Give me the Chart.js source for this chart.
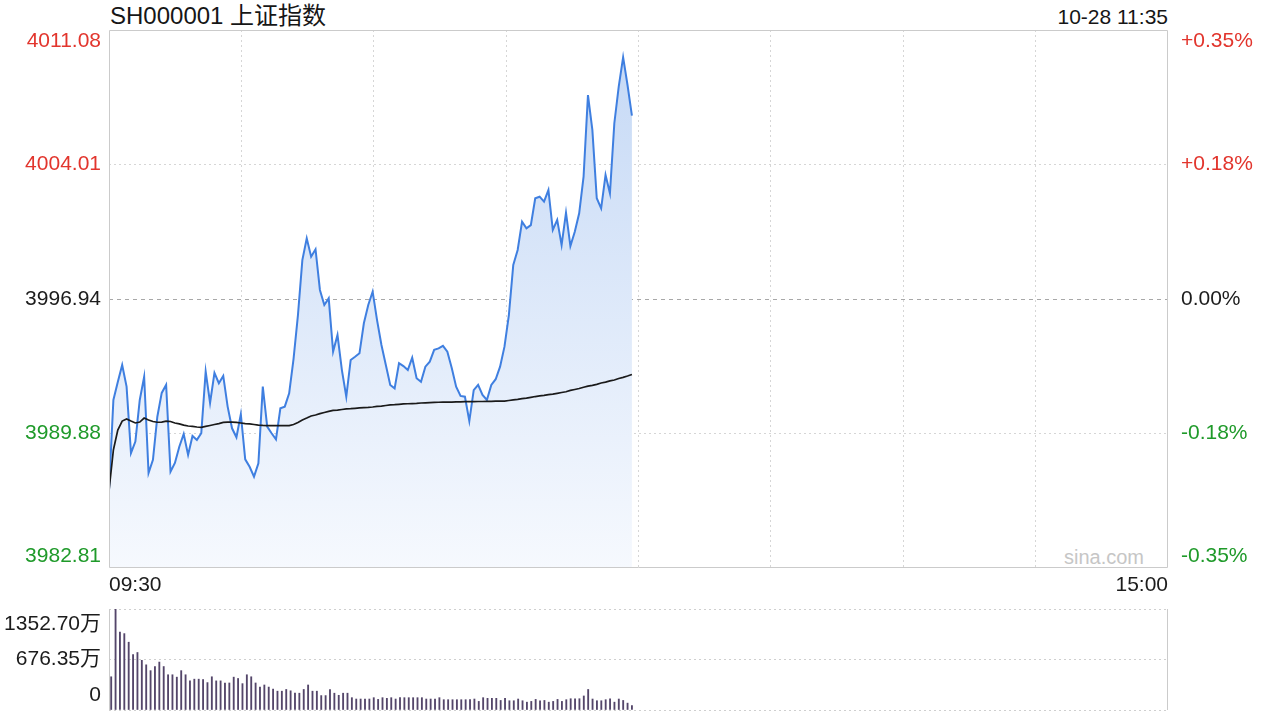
<!DOCTYPE html>
<html><head><meta charset="utf-8">
<script src="https://cdn.jsdelivr.net/npm/chart.js@4.4.1/dist/chart.umd.min.js"></script>
<style>
html,body{margin:0;padding:0;background:#fff;width:1280px;height:720px;overflow:hidden;font-family:"Liberation Sans",Arial,"Noto Sans CJK SC",sans-serif;}
canvas{position:absolute;left:0;}
#main{top:0;}
#vol{top:600px;}
.t{position:absolute;white-space:nowrap;}
</style></head><body>
<div class="t" style="left:110px;top:1px;line-height:30px;font-size:24px;color:#161616;">SH000001 上证指数</div>
<div class="t" style="right:112px;top:2px;line-height:30px;font-size:21px;color:#161616;">10-28 11:35</div>
<div class="t" style="left:1064px;top:546px;line-height:22px;font-size:20px;color:#c6c6c6;">sina.com</div>
<canvas id="main" width="1280" height="600"></canvas>
<canvas id="vol" width="1280" height="120"></canvas>
<script>
const prevClose = 3996.94;
const priceTicks = [3982.81, 3989.88, 3996.94, 4004.01, 4011.08];
const pctLabels = ['-0.35%', '-0.18%', '0.00%', '+0.18%', '+0.35%'];
const xTickLabels = ['09:30', '', '', '', '', '', '', '', '15:00'];
const volTicks = [0, 676.35, 1352.70];
const volLabels = ['0', '676.35万', '1352.70万'];

const price = [
 3986.87,3991.64,3992.58,3993.48,3992.34,3988.85,3989.45,3991.64,3992.86,3987.80,
 3988.49,3990.76,3992.01,3992.43,3987.87,3988.33,3989.18,3989.85,3988.75,3989.75,
 3989.54,3989.89,3993.13,3991.48,3993.06,3992.52,3992.90,3991.29,3990.15,3989.68,
 3990.89,3988.52,3988.13,3987.61,3988.31,3992.34,3990.24,3989.89,3989.57,3991.20,
 3991.29,3991.99,3993.80,3996.10,3998.99,4000.13,3999.17,3999.56,3997.42,3996.63,
 3996.98,3994.18,3995.05,3993.21,3991.81,3993.74,3993.91,3994.09,3995.67,3996.63,
 3997.33,3995.84,3994.53,3993.48,3992.43,3992.25,3993.57,3993.42,3993.21,3993.86,
 3992.78,3992.60,3993.39,3993.65,3994.27,3994.35,3994.48,3994.18,3993.32,3992.34,
 3991.85,3991.81,3990.53,3992.16,3992.43,3991.90,3991.64,3992.43,3992.73,3993.39,
 3994.44,3996.10,3998.73,3999.52,4001.01,4000.66,4000.83,4002.24,4002.32,4002.06,
 4002.67,4000.57,4001.10,3999.78,4001.48,3999.73,4000.48,4001.45,4003.37,4007.66,
 4005.83,4002.24,4001.71,4003.46,4002.50,4006.18,4008.10,4009.65,4008.19,4006.58
];

const avgPrice = [
 3986.87,3989.01,3990.06,3990.53,3990.64,3990.53,3990.43,3990.48,3990.69,3990.59,
 3990.51,3990.47,3990.48,3990.53,3990.51,3990.43,3990.38,3990.32,3990.27,3990.25,
 3990.22,3990.20,3990.25,3990.30,3990.35,3990.40,3990.46,3990.47,3990.47,3990.46,
 3990.43,3990.40,3990.38,3990.35,3990.32,3990.30,3990.29,3990.29,3990.29,3990.29,
 3990.29,3990.29,3990.35,3990.46,3990.59,3990.69,3990.80,3990.85,3990.92,3990.98,
 3991.04,3991.09,3991.11,3991.14,3991.17,3991.18,3991.20,3991.22,3991.24,3991.25,
 3991.27,3991.30,3991.32,3991.35,3991.38,3991.39,3991.41,3991.43,3991.44,3991.45,
 3991.46,3991.48,3991.49,3991.50,3991.51,3991.52,3991.53,3991.53,3991.53,3991.54,
 3991.54,3991.55,3991.55,3991.55,3991.56,3991.56,3991.57,3991.57,3991.58,3991.58,
 3991.58,3991.61,3991.64,3991.67,3991.71,3991.74,3991.78,3991.82,3991.85,3991.88,
 3991.92,3991.95,3991.99,3992.03,3992.07,3992.14,3992.19,3992.24,3992.31,3992.37,
 3992.41,3992.46,3992.53,3992.58,3992.64,3992.69,3992.77,3992.83,3992.90,3992.98
];

const volume = [
 445,1352.7,1045,1023,908,743,770,665,605,527,
 582,642,582,472,472,440,527,472,390,413,
 413,408,367,445,390,390,362,362,440,422,
 353,472,445,362,307,335,307,280,252,252,
 275,257,225,225,275,335,252,252,193,193,
 275,225,197,225,225,165,147,147,147,147,
 165,142,165,156,165,147,165,165,165,165,
 165,165,147,147,147,165,138,138,138,138,
 138,138,138,147,115,165,156,156,156,128,
 156,124,124,147,124,105,115,142,124,128,
 105,115,142,115,138,151,151,151,188,275,
 147,124,124,138,151,105,147,128,92,60
];

const FAM = '"Liberation Sans", Arial, "Noto Sans CJK SC", sans-serif';
Chart.defaults.font.family = FAM;
const RED = '#e2352d', GREEN = '#1f9a2a', DARK = '#1c1c1c';
const SLOTS = 241; // minute slots of a full trading day (index 0..241)
const xGrid = xTickLabels.map((_, i) => i * SLOTS / 8);
const TRANSP = 'rgba(0,0,0,0)';

const framePlugin = {
  id: 'frame',
  afterDatasetsDraw(chart, args, opts) {
    const {ctx, chartArea: a} = chart;
    ctx.save();
    ctx.strokeStyle = '#cbcbcb';
    ctx.lineWidth = 1;
    ctx.beginPath();
    if (opts.full) {
      ctx.rect(a.left + 0.5, a.top + 0.5, a.right - a.left - 1, a.bottom - a.top - 1);
    } else {
      ctx.moveTo(a.left + 0.5, a.top); ctx.lineTo(a.left + 0.5, a.bottom);
      ctx.moveTo(a.right - 0.5, a.top); ctx.lineTo(a.right - 0.5, a.bottom);
    }
    ctx.stroke();
    ctx.restore();
  }
};

const tickColor = (c) => c.index > 2 ? RED : (c.index < 2 ? GREEN : DARK);
const edgeLabel = (text, i, n) => i === n - 1 ? ['', text] : (i === 0 ? [text, ''] : text);
const fixV = (w) => (s) => { s.width = w; s.paddingTop = 0; s.paddingBottom = 0; };

new Chart(document.getElementById('main'), {
  type: 'line',
  data: {
    datasets: [
      {
        label: '均价',
        data: avgPrice.map((v, i) => ({x: i, y: v})),
        borderColor: '#1a1a1a', borderWidth: 1.7, pointRadius: 0, tension: 0, fill: false, order: 0
      },
      {
        label: '上证指数',
        data: price.map((v, i) => ({x: i, y: v})),
        borderColor: '#3f7fe0', borderWidth: 2, pointRadius: 0, tension: 0,
        fill: 'start', order: 1,
        backgroundColor: (c) => {
          const {ctx, chartArea} = c.chart;
          if (!chartArea) return 'rgba(210,225,247,0.6)';
          const g = ctx.createLinearGradient(0, chartArea.top, 0, chartArea.bottom);
          g.addColorStop(0, '#c4d8f5');
          g.addColorStop(1, '#f6f9fe');
          return g;
        }
      }
    ]
  },
  options: {
    responsive: false, animation: false, events: [],
    layout: {padding: {top: 30, left: 0, right: 0, bottom: 0}},
    plugins: {legend: {display: false}, tooltip: {enabled: false}, frame: {full: true}},
    scales: {
      x: {
        type: 'linear', min: 0, max: SLOTS,
        afterBuildTicks: (s) => { s.ticks = xGrid.map(v => ({value: v})); },
        afterFit: (s) => { s.height = 32; s.paddingLeft = 0; s.paddingRight = 0; },
        ticks: {autoSkip: false, maxRotation: 0, align: 'inner', padding: 5, color: DARK,
                font: {size: 21}, callback: (v, i) => xTickLabels[i]},
        grid: {color: (c) => (c.index === 0 || c.index === 8) ? TRANSP : '#d6d6d6', drawTicks: false, lineWidth: 1},
        border: {display: false, dash: [2, 3]}
      },
      y: {
        position: 'left', min: priceTicks[0], max: priceTicks[4],
        afterBuildTicks: (s) => { s.ticks = priceTicks.map(v => ({value: v})); },
        afterFit: fixV(109),
        ticks: {autoSkip: false, padding: 8, color: tickColor, font: {size: 21, lineHeight: 1.1},
                callback: (v, i) => edgeLabel(priceTicks[i].toFixed(2), i, priceTicks.length)},
        grid: {color: (c) => (c.index === 1 || c.index === 3) ? '#d6d6d6' : TRANSP, drawTicks: false},
        border: {display: false, dash: [2, 3]}
      },
      y2: {
        position: 'right', min: priceTicks[0], max: priceTicks[4],
        afterBuildTicks: (s) => { s.ticks = priceTicks.map(v => ({value: v})); },
        afterFit: fixV(112),
        ticks: {autoSkip: false, padding: 13, color: tickColor, font: {size: 21, lineHeight: 1.1},
                callback: (v, i) => edgeLabel(pctLabels[i], i, pctLabels.length)},
        grid: {color: (c) => c.tick && c.tick.value === prevClose ? '#a8a8a8' : TRANSP, drawTicks: false},
        border: {display: false, dash: [4, 4]}
      }
    }
  },
  plugins: [framePlugin]
});

const timeLabels = [];
for (let m = 0; m <= SLOTS; m++) timeLabels.push(String(m));

new Chart(document.getElementById('vol'), {
  type: 'bar',
  data: {
    labels: timeLabels,
    datasets: [{
      label: '成交量',
      data: volume,
      backgroundColor: '#54466a',
      barThickness: 1.2
    }]
  },
  options: {
    responsive: false, animation: false, events: [],
    layout: {padding: {top: 9, bottom: 10, left: 0, right: 112}},
    plugins: {legend: {display: false}, tooltip: {enabled: false}, frame: {full: false}},
    scales: {
      x: {display: false, offset: true},
      y: {
        min: 0, max: volTicks[2],
        afterBuildTicks: (s) => { s.ticks = volTicks.map(v => ({value: v})); },
        afterFit: fixV(109),
        ticks: {autoSkip: false, padding: 8, color: DARK, font: {size: 21, lineHeight: 1.45},
                callback: (v, i) => edgeLabel(volLabels[i], i, volLabels.length)},
        grid: {color: '#cfcfcf', drawTicks: false},
        border: {display: false, dash: [2, 3]}
      }
    }
  },
  plugins: [framePlugin]
});
</script>
</body></html>
